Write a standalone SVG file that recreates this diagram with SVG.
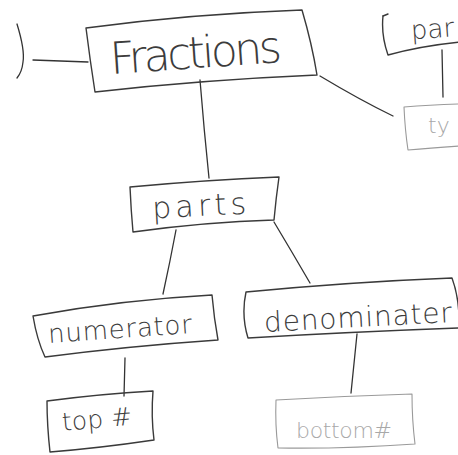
<svg xmlns="http://www.w3.org/2000/svg" width="458" height="455" viewBox="0 0 458 455">
  <style>
    .box { fill: none; stroke: #3a3a3a; stroke-width: 1.4; stroke-linecap: round; stroke-linejoin: round; }
    .faint { stroke: #9a9a9a; stroke-width: 1.1; }
    .link { fill: none; stroke: #333; stroke-width: 1.3; stroke-linecap: round; }
    .lbl { font-family: "DejaVu Sans", "Liberation Sans", sans-serif; font-weight: 200; fill: #3c3c3c; }
    .pale { fill: #a8a8a8; }
  </style>
  <rect width="458" height="455" fill="#ffffff"/>

  <!-- connectors -->
  <g id="connectors">
    <path class="link" d="M17 24 Q25 50 23 62 Q22 72 17 78"/>
    <path class="link" d="M33 60 L88 62"/>
    <path class="link" d="M200 80 Q204 130 209 178"/>
    <path class="link" d="M320 76 Q360 100 393 116"/>
    <path class="link" d="M442 50 L443 97"/>
    <path class="link" d="M176 230 Q170 262 163 294"/>
    <path class="link" d="M274 222 Q292 252 310 283"/>
    <path class="link" d="M125 358 L124 396"/>
    <path class="link" d="M357 334 Q354 364 351 393"/>
  </g>

  <!-- Fractions -->
  <g id="node-fractions">
    <path class="box" d="M86 28 Q190 14 302 10 Q312 44 317 75 Q200 80 95 92 Q90 60 86 28 Z"/>
    <text class="lbl" x="110" y="68" font-size="44" textLength="172" transform="rotate(-4 196 55)">Fractions</text>
  </g>

  <!-- par (top right, cut off) -->
  <g id="node-par">
    <path class="box" d="M383 16 Q381 35 388 55 Q420 46 460 42"/>
    <path class="box" d="M383 16 L388 14"/>
    <text class="lbl" x="411" y="38" font-size="26" transform="rotate(-4 430 30)">par</text>
  </g>

  <!-- ty (right, cut off, faint) -->
  <g id="node-ty">
    <path class="box faint" d="M460 104 Q430 105 404 107 Q405 130 408 150 Q430 148 460 146"/>
    <text class="lbl pale" x="428" y="133" font-size="22">ty</text>
  </g>

  <!-- parts -->
  <g id="node-parts">
    <path class="box" d="M130 187 Q205 180 279 177 Q276 198 274 220 Q205 222 133 232 Q131 210 130 187 Z"/>
    <text class="lbl" x="152" y="216" font-size="30" textLength="94" transform="rotate(-3 200 205)">parts</text>
  </g>

  <!-- numerator -->
  <g id="node-numerator">
    <path class="box" d="M33 316 Q120 300 212 295 Q214 318 218 340 Q130 346 45 357 Q37 340 33 316 Z"/>
    <text class="lbl" x="48" y="338" font-size="26" textLength="144" transform="rotate(-4 120 330)">numerator</text>
  </g>

  <!-- denominater -->
  <g id="node-denominater">
    <path class="box" d="M246 292 Q350 282 452 278 Q460 300 459 328 Q350 332 248 338 Q241 315 246 292 Z"/>
    <text class="lbl" x="264" y="327" font-size="28" textLength="188" transform="rotate(-3 358 318)">denominater</text>
  </g>

  <!-- top # -->
  <g id="node-top">
    <path class="box" d="M47 401 Q100 394 153 391 Q151 416 154 440 Q100 448 50 452 Q47 425 47 401 Z"/>
    <text class="lbl" x="62" y="428" font-size="25" textLength="70" transform="rotate(-5 95 420)">top #</text>
  </g>

  <!-- bottom # (faint) -->
  <g id="node-bottom">
    <path class="box faint" d="M276 400 Q345 396 412 394 Q412 420 415 444 Q345 449 278 448 Q275 425 276 400 Z"/>
    <text class="lbl pale" x="296" y="438" font-size="22" textLength="96">bottom#</text>
  </g>
</svg>
